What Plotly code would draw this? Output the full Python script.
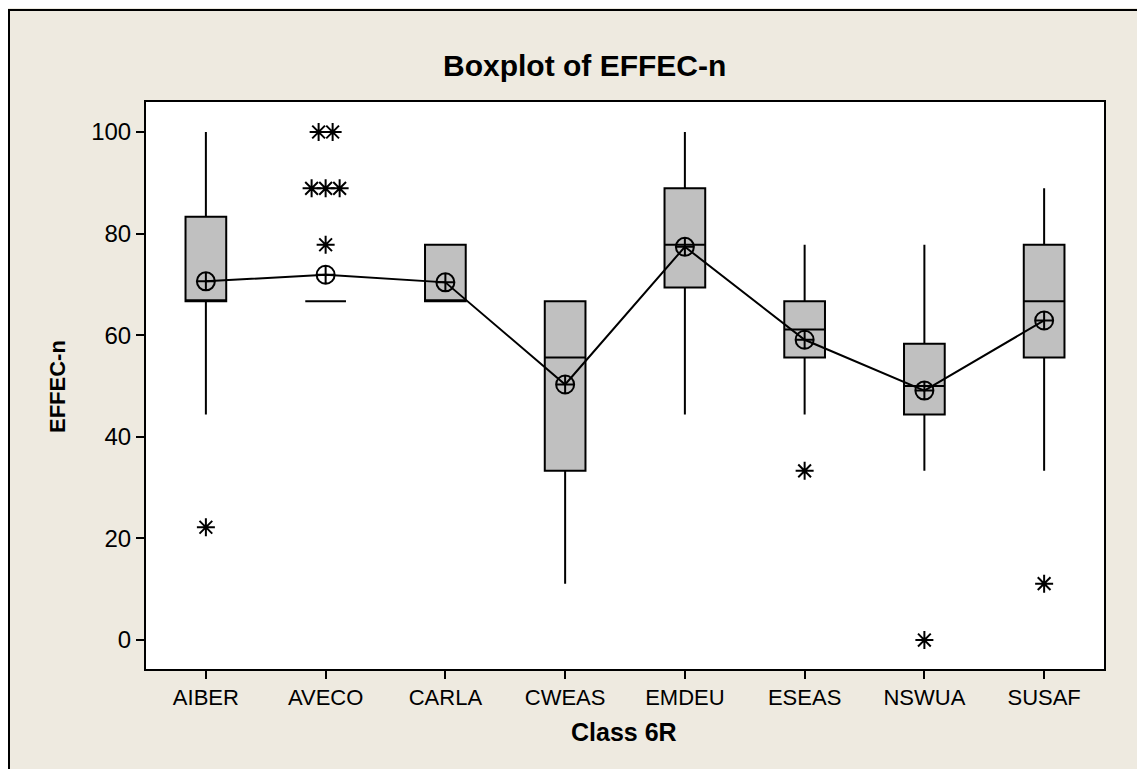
import plotly.graph_objects as go

categories = ["AIBER", "AVECO", "CARLA", "CWEAS", "EMDEU", "ESEAS", "NSWUA", "SUSAF"]
q1 = [66.7, 66.7, 66.7, 33.3, 69.4, 55.6, 44.4, 55.6]
median = [66.7, 66.7, 66.7, 55.6, 77.8, 61.1, 50.0, 66.7]
q3 = [83.3, 66.7, 77.8, 66.7, 88.9, 66.7, 58.3, 77.8]
lower_whisker = [44.4, 66.7, 66.7, 11.1, 44.4, 44.4, 33.3, 33.3]
upper_whisker = [100.0, 66.7, 77.8, 66.7, 100.0, 77.8, 77.8, 88.9]
means = [70.6, 71.9, 70.4, 50.3, 77.4, 59.1, 49.1, 62.9]

outlier_cat = ["AIBER", "AVECO", "AVECO", "AVECO", "AVECO", "AVECO", "AVECO", "ESEAS", "NSWUA", "SUSAF"]
outlier_val = [22.2, 77.8, 88.9, 88.9, 88.9, 100.0, 100.0, 33.3, 0.0, 11.1]

y_ticks = [0, 20, 40, 60, 80, 100]

FONT = "Liberation Sans, Arial, sans-serif"
BG = "#EEEAE0"

xpos = list(range(len(categories)))

# jitter duplicated outliers side by side
out_x = []
groups = {}
for c, v in zip(outlier_cat, outlier_val):
    groups[(c, v)] = groups.get((c, v), 0) + 1
seen = {}
for c, v in zip(outlier_cat, outlier_val):
    n = groups[(c, v)]
    k = seen.get((c, v), 0)
    seen[(c, v)] = k + 1
    out_x.append(categories.index(c) + (k - (n - 1) / 2) * 0.117)

fig = go.Figure()
fig.add_trace(go.Box(
    x=xpos, q1=q1, median=median, q3=q3,
    lowerfence=lower_whisker, upperfence=upper_whisker,
    width=0.34, whiskerwidth=0,
    fillcolor="#C0C0C0", line=dict(color="black", width=2),
    boxpoints=False, showlegend=False, hoverinfo="skip",
))
fig.add_trace(go.Scatter(
    x=xpos, y=means, mode="lines+markers",
    line=dict(color="black", width=2),
    marker=dict(symbol="circle-cross-open", size=18, color="black",
                line=dict(color="black", width=2)),
    showlegend=False,
))
fig.add_trace(go.Scatter(
    x=out_x, y=outlier_val, mode="markers",
    marker=dict(symbol="asterisk-open", size=15, color="black",
                line=dict(color="black", width=2)),
    showlegend=False,
))

# plot area: 958 x 567 px, figure offset by the page's 8px body margin
PW, PH = 958, 567
ML, MT = 138, 94

def px(fx):
    return (fx - ML) / PW

def py(fy):
    return (MT + PH - fy) / PH

fig.update_layout(
    width=1137, height=761,
    paper_bgcolor=BG, plot_bgcolor="white",
    margin=dict(l=ML, r=1137 - ML - PW, t=MT, b=761 - MT - PH),
    font=dict(family=FONT, size=22, color="black"),
    showlegend=False,
    xaxis=dict(
        range=[-0.5, 7.5], tickvals=xpos, ticktext=categories,
        showgrid=False, zeroline=False,
        showline=True, linecolor="black", linewidth=2, mirror=True,
        ticks="outside", ticklen=8, tickwidth=2, tickcolor="black",
        tickfont=dict(size=22),
    ),
    yaxis=dict(
        range=[-5.7, 105.9], tickvals=y_ticks,
        showgrid=False, zeroline=False,
        showline=True, linecolor="black", linewidth=2, mirror=True,
        ticks="outside", ticklen=8, tickwidth=2, tickcolor="black",
        tickfont=dict(size=24),
    ),
    annotations=[
        dict(text="<b>Boxplot of EFFEC-n</b>", xref="paper", yref="paper",
             x=px(584 - 8), y=py(65 - 8), xanchor="center", yanchor="middle",
             showarrow=False, font=dict(size=30, family=FONT)),
        dict(text="<b>Class 6R</b>", xref="paper", yref="paper",
             x=px(624 - 8), y=py(732 - 8), xanchor="center", yanchor="middle",
             showarrow=False, font=dict(size=25, family=FONT)),
        dict(text="<b>EFFEC-n</b>", xref="paper", yref="paper",
             x=px(57 - 8), y=py(387 - 8), xanchor="center", yanchor="middle",
             textangle=-90, showarrow=False, font=dict(size=22, family=FONT)),
    ],
    shapes=[
        dict(type="rect", xref="paper", yref="paper",
             x0=px(1), x1=px(1180), y0=py(800), y1=py(2),
             line=dict(color="black", width=2), fillcolor="rgba(0,0,0,0)", layer="below"),
    ],
)

fig.write_html("out.html")
